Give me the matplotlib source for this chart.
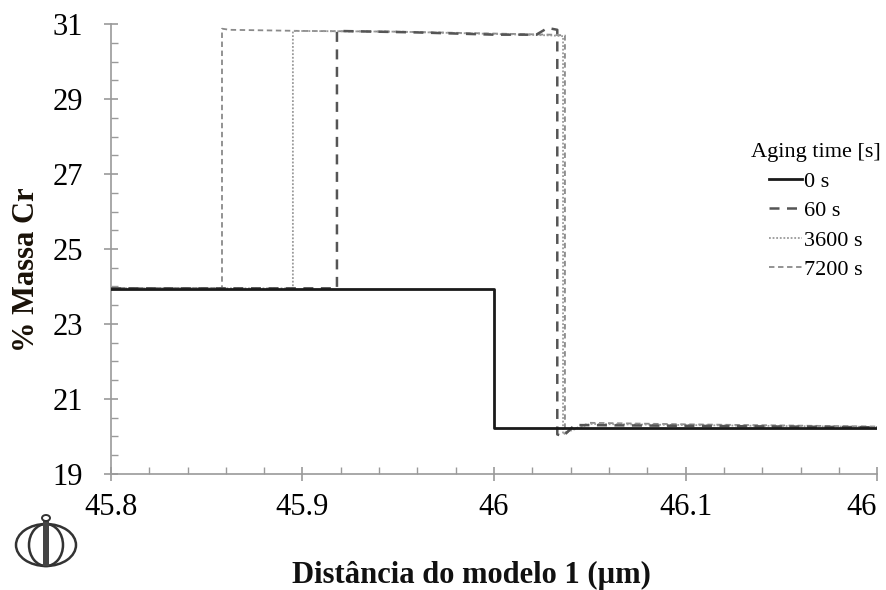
import matplotlib
matplotlib.use("Agg")
import matplotlib.pyplot as plt
from matplotlib.patches import Ellipse, Rectangle
from matplotlib.ticker import MultipleLocator, FixedLocator, FixedFormatter

plt.rcParams['font.family'] = ['Liberation Serif', 'DejaVu Serif']

# Cr mass fraction profiles across the interface for each aging time
x_0s = [45.800, 46.000, 46.000, 46.200]
y_0s = [23.93, 23.93, 20.23, 20.23]

x_60s = [45.800, 45.918, 45.918, 45.960, 46.000, 46.022, 46.028, 46.033, 46.033, 46.036, 46.042, 46.100, 46.200]
y_60s = [23.95, 23.95, 30.82, 30.78, 30.72, 30.72, 30.90, 30.85, 20.05, 20.00, 20.30, 20.28, 20.24]

x_3600s = [45.800, 45.895, 45.895, 45.950, 46.000, 46.030, 46.036, 46.036, 46.040, 46.050, 46.100, 46.200]
y_3600s = [23.95, 23.95, 30.82, 30.80, 30.74, 30.70, 30.68, 20.05, 20.15, 20.33, 20.30, 20.25]

x_7200s = [45.800, 45.858, 45.858, 45.862, 45.900, 45.950, 46.000, 46.030, 46.037, 46.037, 46.042, 46.050, 46.100, 46.200]
y_7200s = [23.96, 23.96, 30.88, 30.85, 30.82, 30.80, 30.75, 30.72, 30.70, 20.10, 20.20, 20.36, 20.32, 20.26]

x_ticks = [45.8, 45.9, 46.0, 46.1, 46.2]
x_tick_labels = ["45.8", "45.9", "46", "46.1", "46"]
y_ticks = [19, 21, 23, 25, 27, 29, 31]

fig = plt.figure(figsize=(8.87, 5.90), dpi=100)
ax = fig.add_axes([0.125, 0.197, 0.864, 0.762])

ax.plot(x_7200s, y_7200s, color='#8a8a8a', lw=1.3, ls=(0, (3, 2)), label='7200 s', zorder=2)
ax.plot(x_3600s, y_3600s, color='#9a9a9a', lw=1.3, ls=(0, (1, 1)), label='3600 s', zorder=3)
ax.plot(x_60s, y_60s, color='#555555', lw=1.8, ls=(0, (4, 3)), label='60 s', zorder=4)
ax.plot(x_0s, y_0s, color='#1a1a1a', lw=2.0, ls='-', label='0 s', zorder=5)

ax.set_xlim(45.8, 46.2)
ax.set_ylim(19, 31)

for s in ['top', 'right']:
    ax.spines[s].set_visible(False)
for s in ['left', 'bottom']:
    ax.spines[s].set_color('#9a9a9a')
    ax.spines[s].set_linewidth(1.2)

ax.xaxis.set_major_locator(FixedLocator(x_ticks))
ax.xaxis.set_major_formatter(FixedFormatter(x_tick_labels))
ax.xaxis.set_minor_locator(MultipleLocator(0.02))
ax.yaxis.set_major_locator(FixedLocator(y_ticks))
ax.yaxis.set_minor_locator(MultipleLocator(0.5))

ax.tick_params(axis='both', which='major', direction='inout', length=10, width=1.2,
               color='#9a9a9a', labelsize=22)
ax.tick_params(axis='both', which='minor', direction='in', length=5, width=1.0,
               color='#9a9a9a')
ax.tick_params(axis='y', which='major', pad=15)
ax.tick_params(axis='x', which='major', pad=9)

# keep the last x label inside the figure
fig.canvas.draw()
ax.get_xticklabels()[-1].set_horizontalalignment('right')
ax.get_xticklabels()[-1].set_x(46.2)

ax.set_ylabel('% Massa Cr', fontsize=22, fontweight='bold', color='#1a1208')
ax.set_xlabel('Distância do modelo 1 (µm)', fontsize=22, fontweight='bold', color='#111111')
ax.yaxis.set_label_coords(-0.091, 0.453)
ax.xaxis.set_label_coords(0.471, -0.193)

handles, labels = ax.get_legend_handles_labels()
order = [3, 2, 1, 0]
leg = ax.legend([handles[i] for i in order], [labels[i] for i in order],
                title='Aging time [s]', frameon=False, fontsize=16, title_fontsize=16,
                loc='upper center', bbox_to_anchor=(0.92, 0.755), handlelength=1.5,
                handletextpad=0.1, labelspacing=0.4, borderaxespad=0)

# emblem in the lower-left corner
cx, cy = 46 / 887, 1 - 545 / 590
w1, h1 = 60 / 887, 42 / 590
w2 = 34 / 887
for w in (w1, w2):
    fig.patches.append(Ellipse((cx, cy), w, h1, transform=fig.transFigure,
                               fill=False, ec='#333333', lw=1.8))
fig.patches.append(Rectangle((cx - 3 / 887, cy - h1 / 2), 6 / 887, h1 + 3 / 590,
                             transform=fig.transFigure, fc='#444444', ec='none'))
fig.patches.append(Ellipse((cx, 1 - 518 / 590), 8 / 887, 6 / 590, transform=fig.transFigure,
                           fill=False, ec='#333333', lw=1.4))

fig.savefig('out.png', dpi=100)
